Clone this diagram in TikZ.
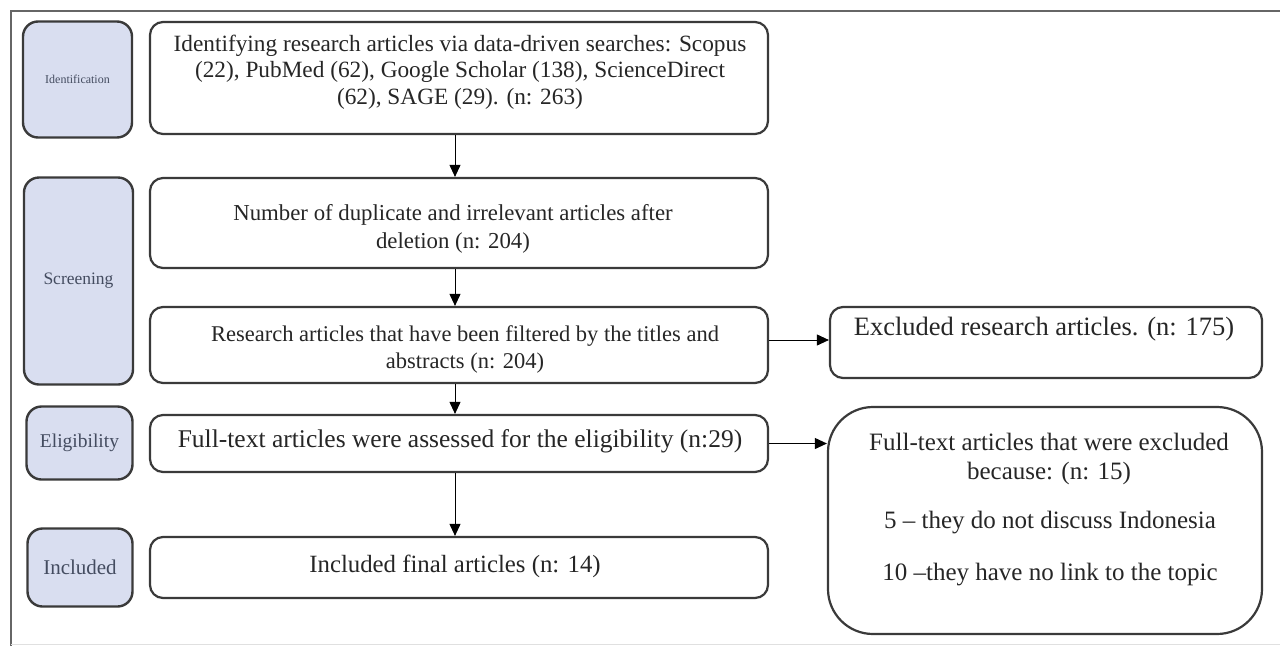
\documentclass[tikz,border=0pt]{standalone}
\usepackage{fontspec}
\setmainfont{Liberation Serif}
\usetikzlibrary{arrows.meta}
\definecolor{lblfill}{HTML}{D9DEF0}
\definecolor{lbltext}{HTML}{444C60}
\definecolor{edgec}{HTML}{3A3A3A}
\begin{document}
\begin{tikzpicture}[x=1pt,y=-1pt,
  mainbox/.style={draw=edgec, line width=2.2pt, rounded corners=13pt, fill=white, inner sep=0pt, align=center, text=black!85},
  lblbox/.style={draw=edgec, line width=2.4pt, rounded corners=15pt, fill=lblfill, inner sep=0pt, align=center, text=lbltext},
  arr/.style={draw=black, line width=0.9pt, -{Triangle[length=12pt,width=11pt]}},
  txt/.style={inner sep=0pt, align=center, text=black!85}]
\useasboundingbox (0,0) rectangle (1280,646);
\fill[white] (0,0) rectangle (1280,646);
% frame
\draw[black!60, line width=2pt] (11,646) -- (11,11) -- (1280,11);
\draw[black!12, line width=1pt] (11,644) -- (1280,644);
% stage labels
\node[lblbox, minimum width=109pt, minimum height=116pt, font=\fontsize{12}{14}\selectfont] (lid) at (77.5,79.5) {Identification};
\node[lblbox, minimum width=109pt, minimum height=207pt, font=\fontsize{17.5}{20}\selectfont] (lsc) at (78.5,281) {Screening};
\node[lblbox, minimum width=106pt, minimum height=73pt, font=\fontsize{19.5}{22}\selectfont] (lel) at (79.5,443) {Eligibility};
\node[lblbox, minimum width=105pt, minimum height=78pt, font=\fontsize{21}{24}\selectfont] (lin) at (80,567.5) {Included};
% main column
\node[mainbox, minimum width=618pt, minimum height=112pt] (b1) at (459,78) {};
\node[txt, font=\fontsize{23.3}{26.5}\selectfont] at (460,72) {Identifying research articles via data-driven searches: Scopus\\(22), PubMed (62), Google Scholar (138), ScienceDirect\\(62), SAGE (29). (n: 263)};
\node[mainbox, minimum width=618pt, minimum height=90pt] (b2) at (459,223) {};
\node[txt, font=\fontsize{22.8}{28}\selectfont] at (453,229) {Number of duplicate and irrelevant articles after\\deletion (n: 204)};
\node[mainbox, minimum width=618pt, minimum height=76pt] (b3) at (459,345) {};
\node[txt, font=\fontsize{22.5}{27}\selectfont] at (465,349) {Research articles that have been filtered by the titles and\\abstracts (n: 204)};
\node[mainbox, minimum width=618pt, minimum height=57pt] (b4) at (459,443.5) {};
\node[txt, font=\fontsize{25.5}{28}\selectfont] at (460,441) {Full-text articles were assessed for the eligibility (n:29)};
\node[mainbox, minimum width=618pt, minimum height=61pt] (b5) at (459,567.5) {};
\node[txt, font=\fontsize{24.8}{28}\selectfont] at (455,566) {Included final articles (n: 14)};
% right column
\node[mainbox, minimum width=432pt, minimum height=71pt] (r1) at (1046,342.5) {};
\node[txt, font=\fontsize{26.5}{28}\selectfont] at (1044,329) {Excluded research articles. (n: 175)};
\node[mainbox, rounded corners=45pt, minimum width=434pt, minimum height=227pt] (r2) at (1045,520.5) {};
\node[txt, font=\fontsize{25}{28.5}\selectfont] at (1049,459) {Full-text articles that were excluded\\because: (n: 15)};
\node[txt, font=\fontsize{25}{28}\selectfont] at (1050,523) {5 -- they do not discuss Indonesia};
\node[txt, font=\fontsize{25}{28}\selectfont] at (1050,575) {10 --they have no link to the topic};
% arrows
\draw[arr] ([xshift=-4pt]b1.south) -- ([xshift=-4pt]b2.north);
\draw[arr] ([xshift=-4pt]b2.south) -- ([xshift=-4pt]b3.north);
\draw[arr] ([xshift=-4pt]b3.south) -- ([xshift=-4pt]b4.north);
\draw[arr] ([xshift=-4pt]b4.south) -- ([xshift=-4pt]b5.north);
\draw[arr] ([yshift=5pt]b3.east) -- ([yshift=5pt]b3.east -| r1.west);
\draw[arr] (b4.east) -- (b4.east -| r2.west);
\end{tikzpicture}
\end{document}
